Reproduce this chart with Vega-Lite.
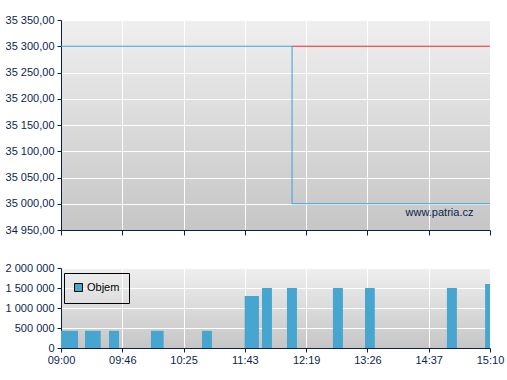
{
  "$schema": "https://vega.github.io/schema/vega-lite/v6.json",
  "padding": {"left": 5, "top": 14, "right": 5, "bottom": 5},
  "background": "white",
  "bounds": "flush",
  "spacing": 38,
  "resolve": {"scale": {"color": "independent"}, "legend": {"color": "independent"}},
  "config": {
    "view": {"stroke": null, "fill": {"gradient": "linear", "x1": 0, "y1": 0, "x2": 0, "y2": 1, "stops": [{"offset": 0, "color": "#efefef"}, {"offset": 1, "color": "#c6c6c6"}]}},
    "axis": {"labelFont": "Liberation Sans", "labelFontSize": 11, "labelColor": "#0b1f4f", "domainColor": "#0b1f4f", "tickColor": "#0b1f4f", "gridColor": "#ffffff", "gridOpacity": 1, "gridWidth": 1, "title": null, "labelFlush": false, "labelBound": false, "domainWidth": 1, "tickWidth": 1},
    "legend": {"labelFont": "Liberation Sans"}
  },
  "datasets": {
    "price": [
      {"i": 0, "p": 35300, "s": "a"},
      {"i": 37.7, "p": 35000, "s": "a"},
      {"i": 70, "p": 35000, "s": "a"},
      {"i": 37.7, "p": 35300, "s": "b"},
      {"i": 70, "p": 35300, "s": "b"}
    ],
    "volume": [
      {"a": 0, "b": 2.77, "v": 430000, "s": "Objem"},
      {"a": 3.92, "b": 6.48, "v": 430000, "s": "Objem"},
      {"a": 7.83, "b": 9.46, "v": 430000, "s": "Objem"},
      {"a": 14.68, "b": 16.75, "v": 430000, "s": "Objem"},
      {"a": 23.0, "b": 24.63, "v": 430000, "s": "Objem"},
      {"a": 29.97, "b": 32.3, "v": 1300000, "s": "Objem"},
      {"a": 32.79, "b": 34.42, "v": 1500000, "s": "Objem"},
      {"a": 36.87, "b": 38.5, "v": 1500000, "s": "Objem"},
      {"a": 44.37, "b": 46.0, "v": 1500000, "s": "Objem"},
      {"a": 49.6, "b": 51.2, "v": 1500000, "s": "Objem"},
      {"a": 62.97, "b": 64.6, "v": 1500000, "s": "Objem"},
      {"a": 69.2, "b": 70.8, "v": 1600000, "s": "Objem"}
    ],
    "one": [{"k": 1}]
  },
  "vconcat": [
    {
      "width": 429,
      "height": 210,
      "layer": [
        {
          "data": {"name": "price"},
          "mark": {"type": "line", "interpolate": "step-after", "strokeWidth": 1},
          "encoding": {
            "x": {"field": "i", "type": "quantitative", "scale": {"domain": [0, 70], "nice": false},
                  "axis": {"values": [0, 10, 20, 30, 40, 50, 60, 70], "labels": false, "tickSize": 5, "grid": true}},
            "y": {"field": "p", "type": "quantitative", "scale": {"domain": [34950, 35350], "nice": false, "zero": false},
                  "axis": {"values": [34950, 35000, 35050, 35100, 35150, 35200, 35250, 35300, 35350], "tickSize": 4, "labelPadding": 3, "grid": true, "labelOverlap": false,
                           "labelExpr": "replace(replace(format(datum.value, ',.2f'), ',', ' '), '.', ',')"}},
            "color": {"field": "s", "type": "nominal", "scale": {"domain": ["a", "b"], "range": ["#35a3dd", "#e2262b"]}, "legend": null}
          }
        },
        {
          "data": {"name": "one"},
          "mark": {"type": "text", "text": "www.patria.cz", "align": "right", "baseline": "middle", "font": "Liberation Sans", "fontSize": 11, "color": "#0b1f4f"},
          "encoding": {
            "x": {"datum": 67.3, "type": "quantitative", "scale": {"domain": [0, 70], "nice": false},
                  "axis": {"values": [0, 10, 20, 30, 40, 50, 60, 70], "labels": false, "tickSize": 5, "grid": true}},
            "y": {"datum": 34982, "type": "quantitative", "scale": {"domain": [34950, 35350], "nice": false, "zero": false},
                  "axis": {"values": [34950, 35000, 35050, 35100, 35150, 35200, 35250, 35300, 35350], "tickSize": 4, "labelPadding": 3, "grid": true, "labelOverlap": false,
                           "labelExpr": "replace(replace(format(datum.value, ',.2f'), ',', ' '), '.', ',')"}}
          }
        }
      ]
    },
    {
      "width": 429,
      "height": 80,
      "data": {"name": "volume"},
      "mark": {"type": "rect", "clip": true},
      "encoding": {
        "x": {"field": "a", "type": "quantitative", "scale": {"domain": [0, 70], "nice": false},
              "axis": {"values": [0, 10, 20, 30, 40, 50, 60, 70], "tickSize": 4, "labelPadding": 2, "grid": true, "labelOverlap": false,
                       "labelExpr": "['09:00','09:46','10:25','11:43','12:19','13:26','14:37','15:10'][round(datum.value/10)]"}},
        "x2": {"field": "b"},
        "y": {"field": "v", "type": "quantitative", "scale": {"domain": [0, 2000000], "nice": false},
              "axis": {"values": [0, 500000, 1000000, 1500000, 2000000], "tickSize": 4, "labelPadding": 3, "grid": true, "labelOverlap": false,
                       "labelExpr": "replace(format(datum.value, ',d'), /,/g, ' ')"}},
        "y2": {"datum": 0},
        "color": {"field": "s", "type": "nominal", "title": null, "scale": {"domain": ["Objem"], "range": ["#46a6cf"]},
                  "legend": {"orient": "none", "legendX": 3, "legendY": 5, "strokeColor": "black", "padding": 9, "symbolType": "square", "symbolSize": 64,
                             "symbolStrokeColor": "black", "symbolStrokeWidth": 1, "labelFontSize": 11, "labelColor": "black", "labelOffset": 3}}
      }
    }
  ]
}
